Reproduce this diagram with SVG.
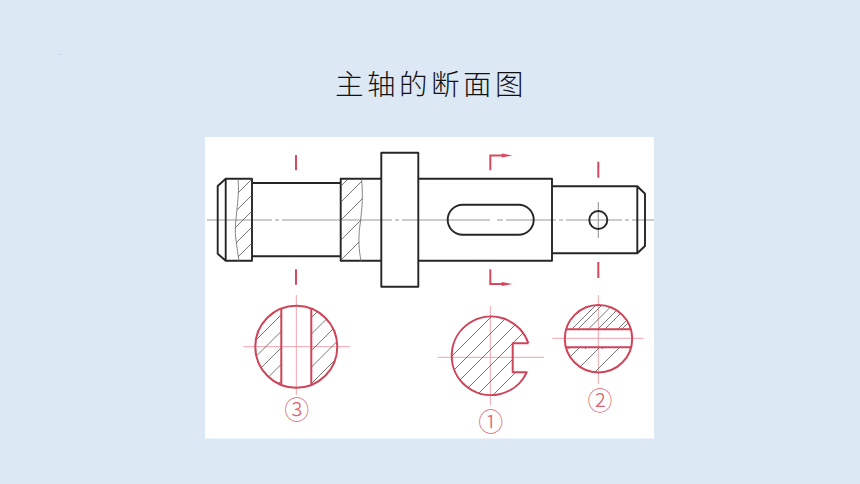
<svg xmlns="http://www.w3.org/2000/svg" width="860" height="484" viewBox="0 0 860 484">
<style>
.o{fill:none;stroke:#262626;stroke-width:1.900;stroke-linejoin:round}
.c{fill:none;stroke:#999;stroke-width:1.100}
.t{fill:none;stroke:#666;stroke-width:.8}
.h{fill:none;stroke:#555;stroke-width:.8}
.k{fill:none;stroke:#d8485f;stroke-width:2}
.r{fill:none;stroke:#cf4459;stroke-width:2;stroke-linejoin:round}
.p{fill:none;stroke:#f0a3ac;stroke-width:1}
.n{font-family:"Noto Sans CJK SC","DejaVu Sans",sans-serif;font-size:25px;font-weight:300;fill:#e0636f;text-anchor:middle}
</style>
<defs>
<clipPath id="ca"><path d="M238,179C240.500,197 233,225 236,240C237,248 238,255 239,261L252,261L252,179Z"/></clipPath>
<clipPath id="cb"><path d="M341,179L361.500,179C363,195 362.500,205 360,225C358,240 359,250 361,261L341,261Z"/></clipPath>
<clipPath id="c3"><path d="M281.300,308.500A41,41 0 0 0 281.300,384.900ZM311.300,308.500A41,41 0 0 1 311.300,384.900Z"/></clipPath>
<clipPath id="c1"><path d="M528.300,343.300L512.700,343.300L512.700,372.300L526.700,372.300A39.300,39.300 0 1 1 528.300,343.300Z"/></clipPath>
<clipPath id="c2"><path d="M566.100,329.300H630.900A33.700,33.700 0 0 0 566.100,329.300ZM565.900,347.300H631.100A33.700,33.700 0 0 1 565.900,347.300Z"/></clipPath>
</defs>
<rect width="860" height="484" fill="#dde8f5"/>
<rect x="205" y="137" width="449" height="301.500" fill="#fff"/>
<text x="59" y="55" font-family="Liberation Sans, sans-serif" font-size="6" fill="#333">.</text>
<text x="431" y="95" font-family="'Noto Sans CJK SC',sans-serif" font-size="28.500px" letter-spacing="3.500" fill="#111" text-anchor="middle" font-weight="300">主轴的断面图</text>

<g id="centerlines">
<path class="c" d="M207,220H272M275,220H279M282,220H392M395,220H399M402,220H490M497,220H503M506,220H556M559,220H563M566,220H622M625,220H629M632,220H654"/>
<path class="c" d="M598.300,202V238"/>
</g>
<g id="shaft">
<path class="o" d="M252,183H340.700M252,256.300H340.700M418.300,178.700H552V260.700H418.300M552,186.300H637.300L645,193.700V246L637.300,253.300H552M637.300,186.300V253.300"/>
<path class="o" d="M217.700,186L225.700,178.700H252V260.700H225.700L217.700,253.700ZM225.700,178.700V260.700"/>
<path class="o" d="M381.300,178.700H340.700V260.700H381.300"/>
<rect class="o" x="381.300" y="152.700" width="37" height="134"/>
<rect class="o" x="447.700" y="204.700" width="86" height="30" rx="15"/>
<circle class="o" cx="598.300" cy="220" r="9"/>
</g>
<g id="shaft-hatch">
<path class="t" d="M238,179C240.500,197 233,225 236,240C237,248 238,255 239,261M361.500,179C363,195 362.500,205 360,225C358,240 359,250 361,261"/>
<g clip-path="url(#ca)"><path class="h" d="M261,170L221,210M277,170L237,210M293,170L213,250M309,170L219,260M325,170L225,270"/></g>
<g clip-path="url(#cb)"><path class="h" d="M357,170L327,200M373,170L333,210M391,170L331,230M411,170L321,260M431,170L331,270M452,170L342,280"/></g>
</g>
<g id="cut-marks">
<path class="k" d="M296,155V170.300M296,269.300V284.700M598.300,161.700V177.700M598.300,262V278"/>
<path class="k" d="M490.300,170.300V155.500H502M490.300,269.300V284H502" stroke-width="1.500"/>
<path d="M501.700,153.500L512.700,155.500L501.700,157.500ZM501.700,282L512.700,284L501.700,286Z" fill="#d8485f"/>
</g>
<g id="section-3">
<path class="p" d="M243.300,346.700H350M296.300,295V395"/>
<g clip-path="url(#c3)"><path class="h" d="M340,256L240,356M340,272.500L240,372.500M340,289L240,389M340,305.500L240,405.500M360,302L250,412M370,308.500L260,418.500M370,325L260,435"/></g>
<circle class="r" cx="296.300" cy="346.700" r="41"/>
<path class="r" d="M281.300,308.700V384.700M311.300,308.700V384.700"/>
<text class="n" x="296.800" y="419">③</text>
</g>
<g id="section-1">
<path class="p" d="M437.700,357.300H544M490.300,306V405"/>
<g clip-path="url(#c1)"><path class="h" d="M540,252L420,372M540,268L420,388M540,284L420,404M540,300L430,410M550,306L440,416M560,312L450,422M570,318L460,428M580,324L470,434"/></g>
<path class="r" d="M528.300,343.300L512.700,343.300L512.700,372.300L526.700,372.300A39.300,39.300 0 1 1 528.300,343.300"/>
<text class="n" x="490.700" y="431">①</text>
</g>
<g id="section-2">
<path class="p" d="M552.300,338.300H643.300M598.300,295V384"/>
<g clip-path="url(#c2)"><path class="h" d="M621,280L551,350M638,279.500L568,349.500M655,279L585,349M672,279L602,349M660,247L550,357M660,267L550,377M660,287L550,397M660,307L550,417"/></g>
<circle class="r" cx="598.500" cy="338.700" r="33.700"/>
<path class="r" d="M565.500,329.300H631.500M565.500,347.300H631.500"/>
<text class="n" x="600" y="410">②</text>
</g>
</svg>
